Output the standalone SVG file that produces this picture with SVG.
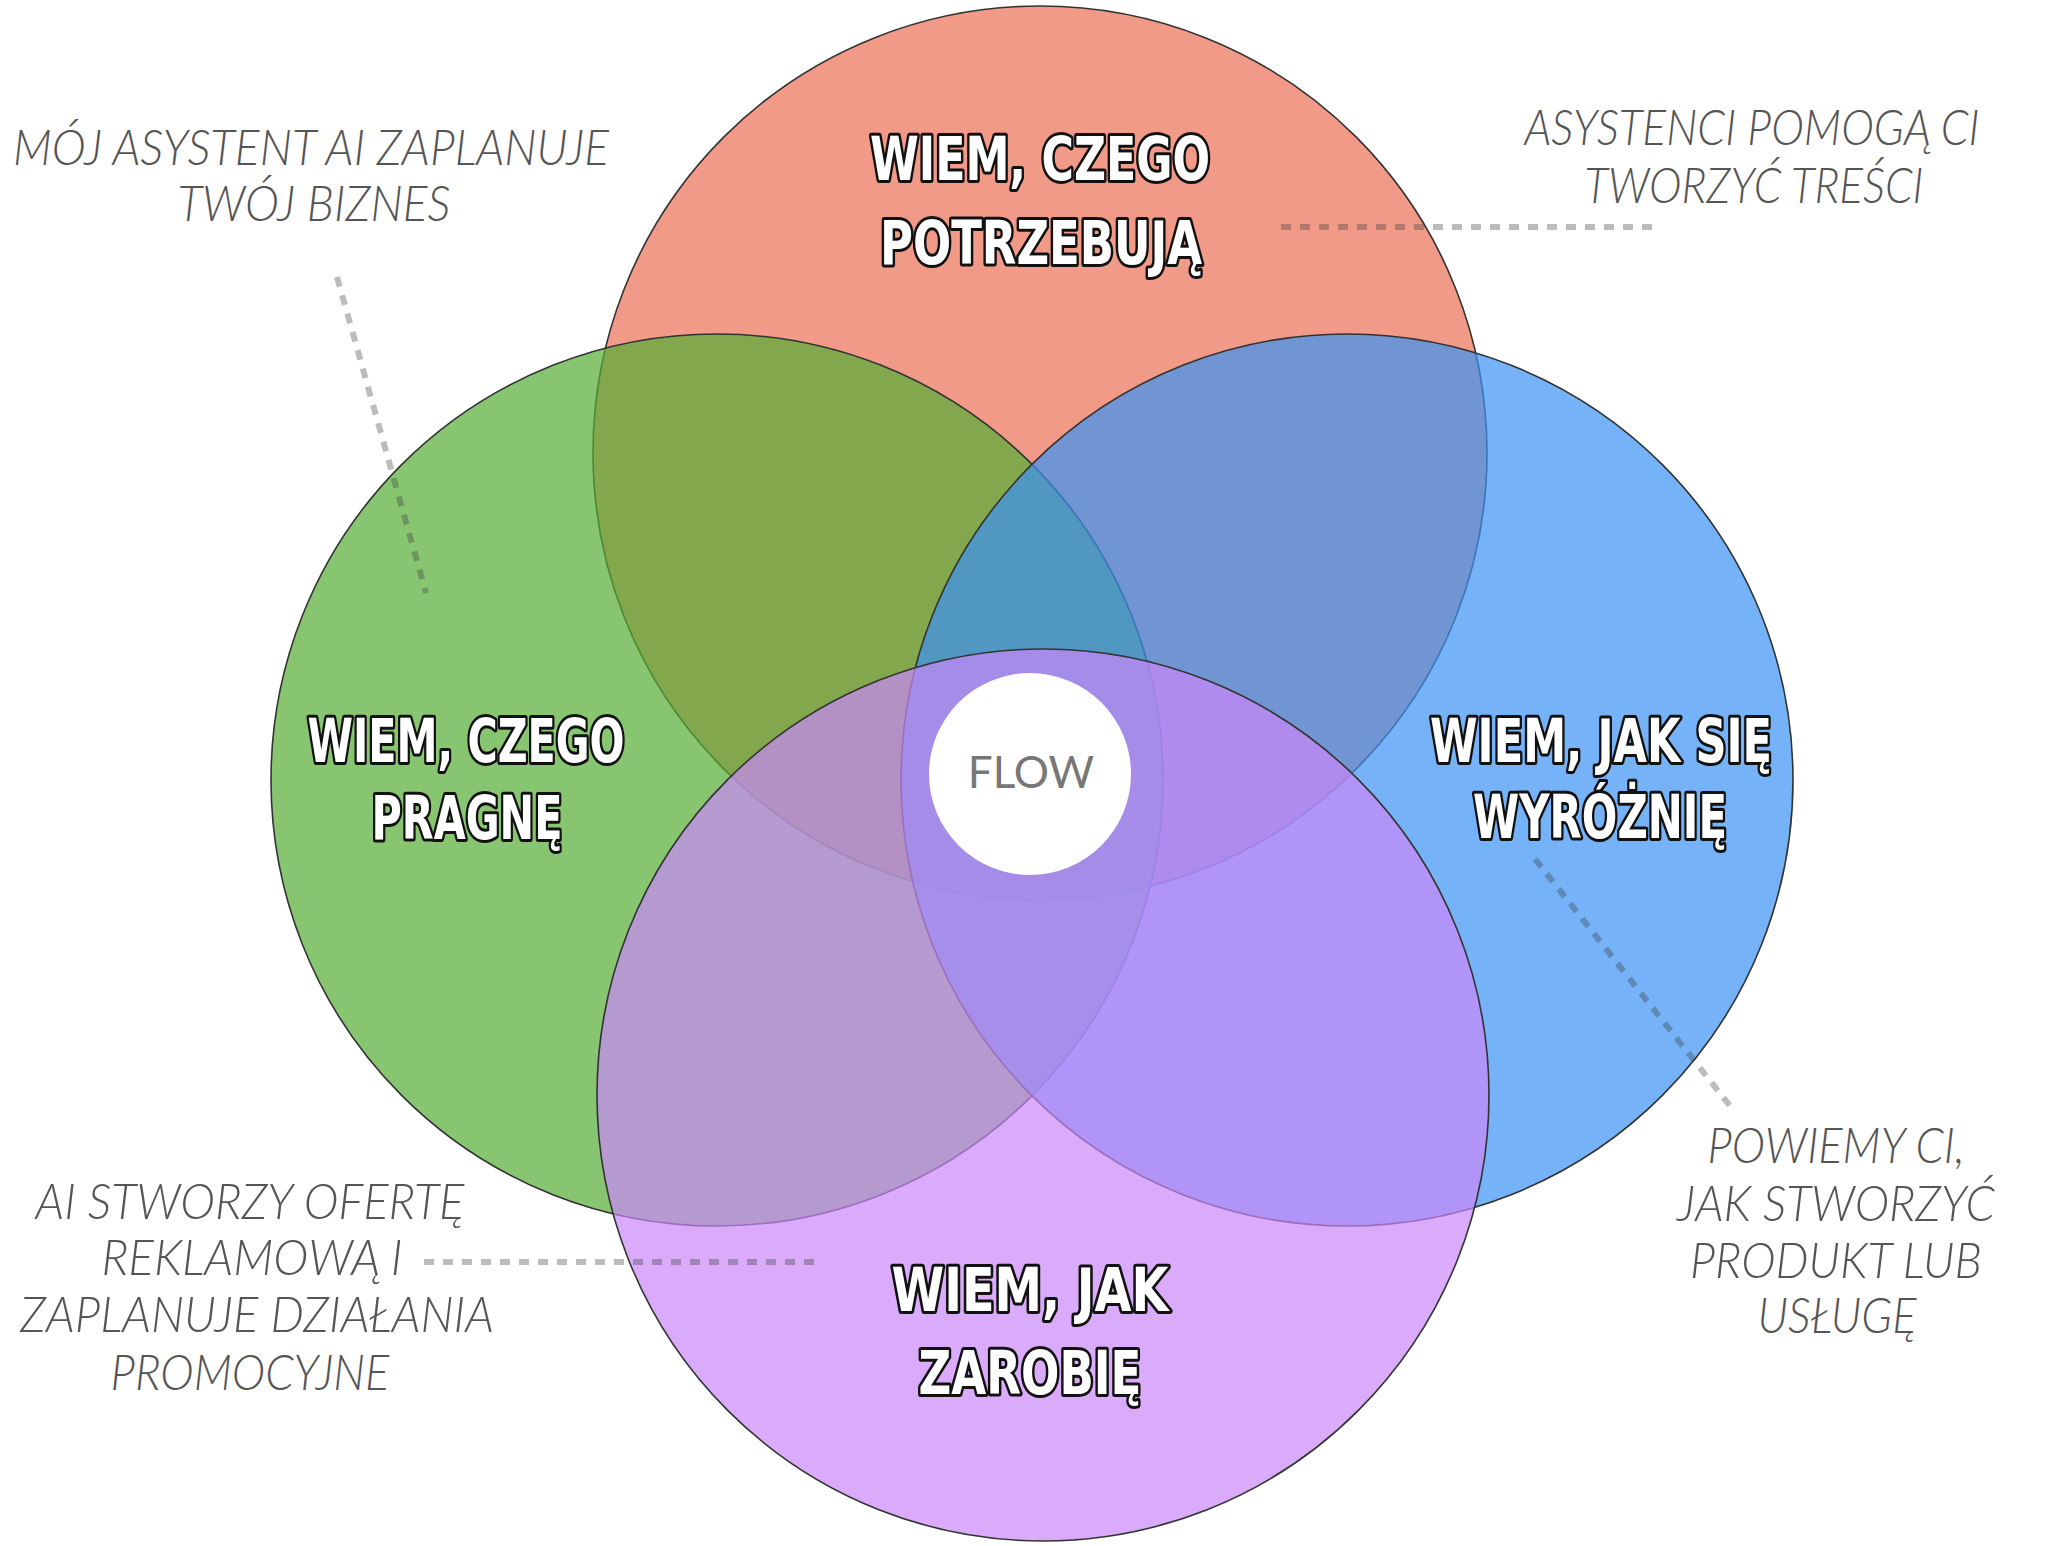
<svg xmlns="http://www.w3.org/2000/svg" width="2066" height="1546" viewBox="0 0 2066 1546">
<style>
.c{stroke:#333;stroke-width:1.6;fill-opacity:0.7}
.h{font-family:"DejaVu Sans",sans-serif;font-weight:bold;font-stretch:condensed;font-size:61px;fill:#fff;stroke:#111;stroke-width:6;stroke-linejoin:round;paint-order:stroke;text-anchor:middle}
.a{font-family:Lato,"Open Sans",sans-serif;font-style:italic;font-weight:300;font-size:50px;fill:#555;text-anchor:middle}
.d{stroke:#3a3a3a;stroke-opacity:0.34;stroke-width:6;stroke-dasharray:10 9;fill:none}
</style>
<rect width="2066" height="1546" fill="#fff"/>
<g id="node-red">
<circle class="c" cx="1040" cy="453" r="447" fill="#EC6F55"/>
<text class="h" x="1040" y="180" textLength="340" lengthAdjust="spacingAndGlyphs">WIEM, CZEGO</text>
<text class="h" x="1041" y="264" textLength="322" lengthAdjust="spacingAndGlyphs">POTRZEBUJĄ</text>
</g>
<g id="node-green">
<circle class="c" cx="717" cy="780" r="446" fill="#54AC34"/>
<text class="h" x="466" y="762" textLength="317" lengthAdjust="spacingAndGlyphs">WIEM, CZEGO</text>
<text class="h" x="467" y="839" textLength="191" lengthAdjust="spacingAndGlyphs">PRAGNĘ</text>
</g>
<g id="node-blue">
<circle class="c" cx="1347" cy="780" r="446" fill="#3A92F4"/>
<text class="h" x="1601" y="762" textLength="342" lengthAdjust="spacingAndGlyphs">WIEM, JAK SIĘ</text>
<text class="h" x="1600" y="838" textLength="254" lengthAdjust="spacingAndGlyphs">WYRÓŻNIĘ</text>
</g>
<g id="node-purple">
<circle class="c" cx="1043" cy="1095" r="446" fill="#C987F8"/>
<text class="h" x="1030" y="1311" textLength="277" lengthAdjust="spacingAndGlyphs">WIEM, JAK</text>
<text class="h" x="1030" y="1394" textLength="223" lengthAdjust="spacingAndGlyphs">ZAROBIĘ</text>
</g>
<g id="node-flow">
<circle cx="1030" cy="774" r="101" fill="#fff"/>
<text x="1031" y="788" font-family="Lato,'Open Sans',sans-serif" font-size="44" fill="#777" text-anchor="middle">FLOW</text>
</g>
<g id="connectors">
<line class="d" x1="337" y1="277" x2="426" y2="593"/>
<line class="d" x1="1281" y1="227" x2="1656" y2="227"/>
<line class="d" x1="424" y1="1262" x2="823" y2="1262"/>
<line class="d" x1="1535" y1="859" x2="1734" y2="1111"/>
</g>
<g id="note-top-left">
<text class="a" x="311" y="165" textLength="596" lengthAdjust="spacingAndGlyphs">MÓJ ASYSTENT AI ZAPLANUJE</text>
<text class="a" x="314" y="221" textLength="273" lengthAdjust="spacingAndGlyphs">TWÓJ BIZNES</text>
</g>
<g id="note-top-right">
<text class="a" x="1752" y="145" textLength="455" lengthAdjust="spacingAndGlyphs">ASYSTENCI POMOGĄ CI</text>
<text class="a" x="1754" y="203" textLength="339" lengthAdjust="spacingAndGlyphs">TWORZYĆ TREŚCI</text>
</g>
<g id="note-bottom-left">
<text class="a" x="250" y="1219" textLength="429" lengthAdjust="spacingAndGlyphs">AI STWORZY OFERTĘ</text>
<text class="a" x="252" y="1275" textLength="301" lengthAdjust="spacingAndGlyphs">REKLAMOWĄ I</text>
<text class="a" x="257" y="1332" textLength="474" lengthAdjust="spacingAndGlyphs">ZAPLANUJE DZIAŁANIA</text>
<text class="a" x="250" y="1390" textLength="279" lengthAdjust="spacingAndGlyphs">PROMOCYJNE</text>
</g>
<g id="note-bottom-right">
<text class="a" x="1836" y="1163" textLength="257" lengthAdjust="spacingAndGlyphs">POWIEMY CI,</text>
<text class="a" x="1836" y="1221" textLength="318" lengthAdjust="spacingAndGlyphs">JAK STWORZYĆ</text>
<text class="a" x="1836" y="1278" textLength="292" lengthAdjust="spacingAndGlyphs">PRODUKT LUB</text>
<text class="a" x="1837" y="1333" textLength="159" lengthAdjust="spacingAndGlyphs">USŁUGĘ</text>
</g>
</svg>
